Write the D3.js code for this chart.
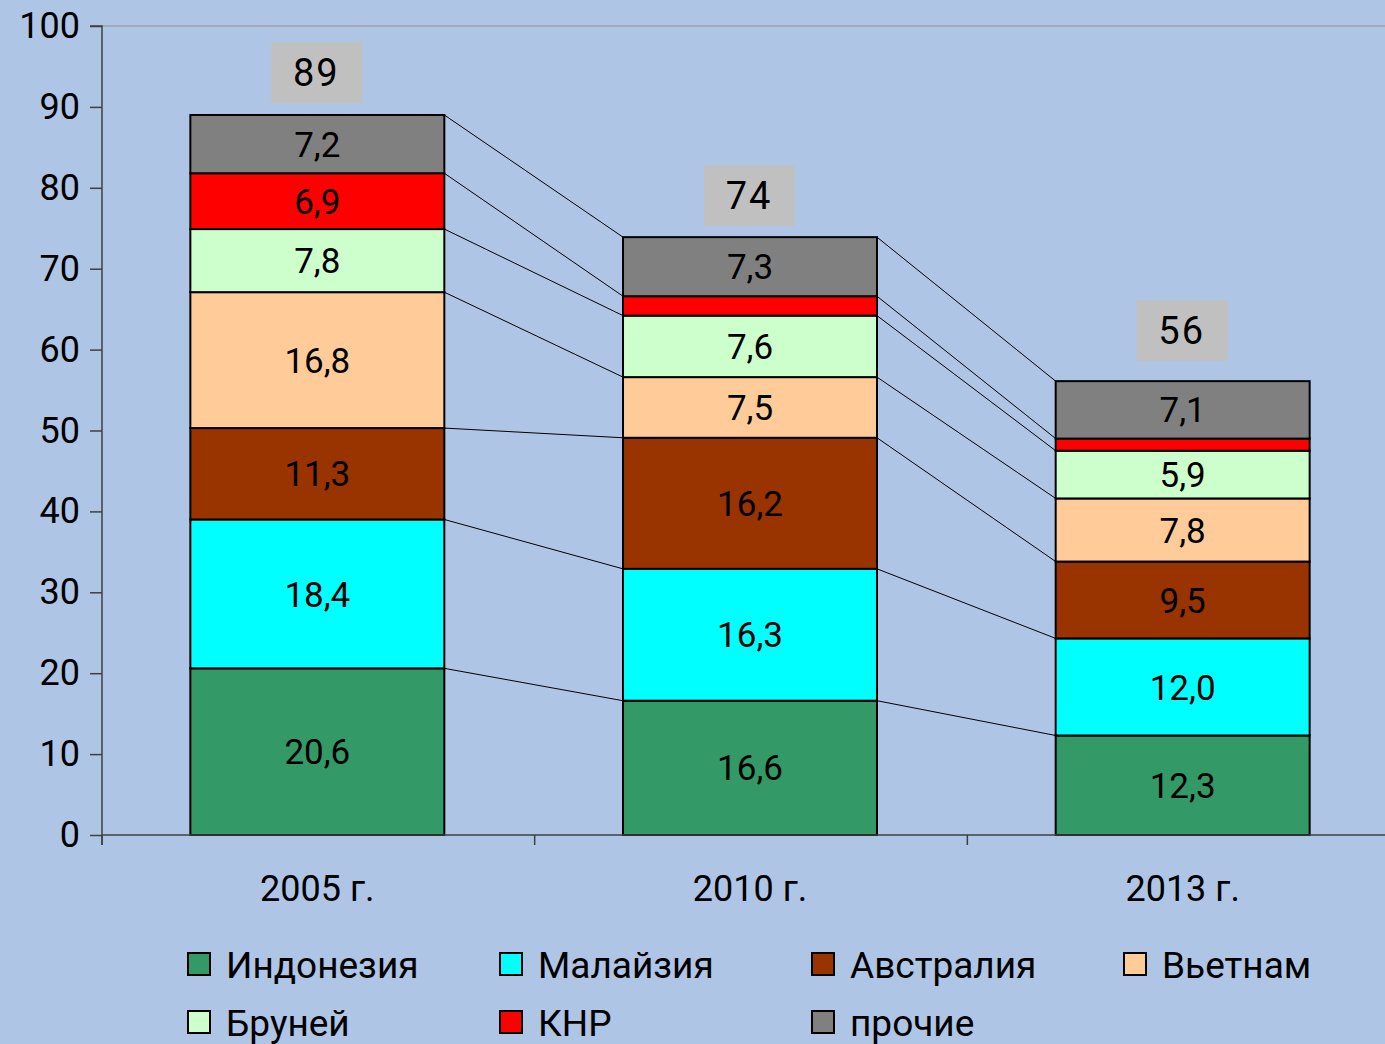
<!DOCTYPE html>
<html>
<head>
<meta charset="utf-8">
<script src="https://cdn.jsdelivr.net/npm/d3@7"></script>
<style>
  body { margin: 0; background: #afc5e5; }
  svg { display: block; font-family: Roboto, "DejaVu Sans", sans-serif; }
</style>
</head>
<body>
<script>
const years = ['2005 г.', '2010 г.', '2013 г.'];
const countries = ['Индонезия', 'Малайзия', 'Австралия', 'Вьетнам', 'Бруней', 'КНР', 'прочие'];
const colors = ['#339966', '#00ffff', '#993300', '#ffcc99', '#ccffcc', '#ff0000', '#808080'];
const values = {
  'Индонезия': [20.6, 16.6, 12.3],
  'Малайзия': [18.4, 16.3, 12.0],
  'Австралия': [11.3, 16.2, 9.5],
  'Вьетнам': [16.8, 7.5, 7.8],
  'Бруней': [7.8, 7.6, 5.9],
  'КНР': [6.9, 2.4, 1.5],
  'прочие': [7.2, 7.3, 7.1]
};
const totals = [89, 74, 56];
const yTicks = [0, 10, 20, 30, 40, 50, 60, 70, 80, 90, 100];

const W = 1385, H = 1044;
const mLeft = 102, mRight = 1400, mTop = 26, mBottom = 835;

const svg = d3.select('body').append('svg')
  .attr('width', W).attr('height', H);

const x = d3.scaleBand().domain(years).range([mLeft - 1, mRight - 1])
  .paddingInner(0.413).paddingOuter(0.2065);
const y = d3.scaleLinear().domain([0, 100]).range([mBottom, mTop]);

// stacked data
const rows = years.map((yr, i) => {
  const r = { year: yr };
  countries.forEach(c => r[c] = values[c][i]);
  return r;
});
const series = d3.stack().keys(countries)(rows);

// top gridline
svg.append('line')
  .attr('x1', mLeft).attr('x2', W)
  .attr('y1', y(100)).attr('y2', y(100))
  .attr('stroke', '#a0a0a0').attr('stroke-width', 1.5);

// connector lines
series.forEach(s => {
  for (let i = 0; i < years.length - 1; i++) {
    svg.append('line')
      .attr('x1', x(years[i]) + x.bandwidth()).attr('y1', y(s[i][1]))
      .attr('x2', x(years[i + 1])).attr('y2', y(s[i + 1][1]))
      .attr('stroke', '#000').attr('stroke-width', 1);
  }
});

// bars
const g = svg.append('g');
series.forEach((s, k) => {
  g.selectAll(null).data(s).join('rect')
    .attr('x', d => x(d.data.year))
    .attr('y', d => y(d[1]))
    .attr('width', x.bandwidth())
    .attr('height', d => y(d[0]) - y(d[1]))
    .attr('fill', colors[k])
    .attr('stroke', '#000').attr('stroke-width', 2);
});

// segment labels
series.forEach(s => {
  g.selectAll(null).data(s.filter(d => d[1] - d[0] >= 3)).join('text')
    .attr('x', d => x(d.data.year) + x.bandwidth() / 2)
    .attr('y', d => (y(d[0]) + y(d[1])) / 2)
    .attr('dy', '0.36em')
    .attr('text-anchor', 'middle')
    .attr('font-size', 35)
    .text(d => d3.format('.1f')(d[1] - d[0]).replace('.', ','));
});

// totals (gap between box and bar top differs per bar in the original)
const boxGap = [13, 12, 21];
years.forEach((yr, i) => {
  const cx = x(yr) + x.bandwidth() / 2 - 1;
  const sumTop = series[series.length - 1][i][1];
  const by = y(sumTop) - boxGap[i] - 60;
  svg.append('rect')
    .attr('x', cx - 45).attr('y', by)
    .attr('width', 91).attr('height', 61)
    .attr('fill', '#c0c0c0');
  svg.append('text')
    .attr('x', cx).attr('y', by + 30)
    .attr('dy', '0.36em')
    .attr('text-anchor', 'middle')
    .attr('font-size', 38)
    .attr('letter-spacing', 2)
    .text(totals[i]);
});

// y axis
const yAxis = svg.append('g')
  .attr('transform', `translate(${mLeft},0)`)
  .call(d3.axisLeft(y).tickValues(yTicks).tickSize(12).tickPadding(10));
yAxis.selectAll('text').attr('font-size', 36).attr('fill', '#000').attr('font-family', 'Roboto');
yAxis.selectAll('line, path').attr('stroke', '#404040').attr('stroke-width', 1.5);
yAxis.select('path').attr('d', `M-12,${y(100)}H0V${mBottom + 10}`);

// x axis
svg.append('line')
  .attr('x1', mLeft).attr('x2', W)
  .attr('y1', mBottom).attr('y2', mBottom)
  .attr('stroke', '#404040').attr('stroke-width', 1.5);
d3.range(years.length + 1).forEach(i => {
  const tx = mLeft + i * x.step();
  svg.append('line')
    .attr('x1', tx).attr('x2', tx)
    .attr('y1', mBottom).attr('y2', mBottom + 10)
    .attr('stroke', '#404040').attr('stroke-width', 1.5);
});
svg.selectAll('.xl').data(years).join('text')
  .attr('x', d => x(d) + x.bandwidth() / 2)
  .attr('y', 888)
  .attr('dy', '0.36em')
  .attr('text-anchor', 'middle')
  .attr('font-size', 36)
  .text(d => d);

// legend
const leg = svg.append('g');
countries.forEach((c, i) => {
  const col = i % 4, row = Math.floor(i / 4);
  const lx = 188 + col * 312, ly = 965 + row * 58;
  leg.append('rect')
    .attr('x', lx).attr('y', ly - 12)
    .attr('width', 22).attr('height', 22)
    .attr('fill', colors[i]).attr('stroke', '#000').attr('stroke-width', 2);
  leg.append('text')
    .attr('x', lx + 38).attr('y', ly)
    .attr('dy', '0.36em')
    .attr('font-size', 37)
    .text(c);
});
</script>
</body>
</html>
